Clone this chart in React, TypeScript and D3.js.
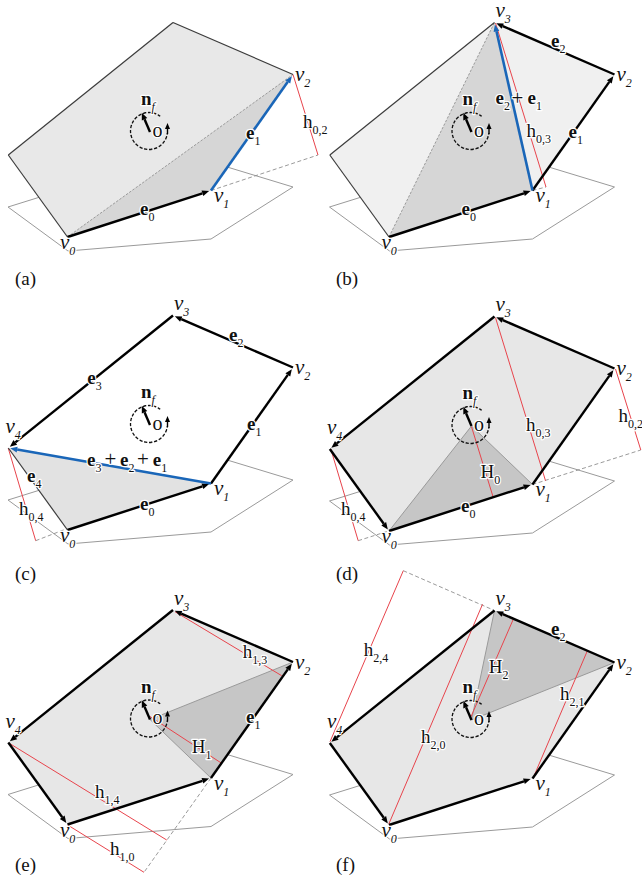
import React from "react";
import * as d3 from "d3";

type P = [number, number];
const vertices: P[] = [[67.5, 237], [211, 190.5], [293, 74.5], [173, 22.5], [8.3, 155]];
const ground: P[] = [[8, 207], [68, 251], [211, 239], [293, 187], [181, 153]];
const origin: P = [150, 132];
const normalTip: P = [141, 111];
const offX = [0, 321.5, 0, 321.5, 0, 321.5];
const offY = [0, 0, 293, 294, 587.5, 588];
const captions = ["(a)", "(b)", "(c)", "(d)", "(e)", "(f)"];
const captionPos: P[] = [[15, 285], [336, 285], [15, 580], [336, 580], [15, 871], [336, 871]];

const lightFill = ["#e8e8e8", "#f0f0f0", "#ffffff", "#e7e7e7", "#e7e7e7", "#e7e7e7"];
const darkFill = ["#d6d6d6", "#d6d6d6", "#e2e2e2", "#c6c6c6", "#c6c6c6", "#c6c6c6"];
// triangle corners: vertex index, or -1 for the origin point
const triangles = [[0, 1, 2], [0, 1, 3], [0, 1, 4], [-1, 0, 1], [-1, 1, 2], [-1, 2, 3]];
const triangleDash = [[[0, 2]], [[0, 3]], [], [[-1, 0], [-1, 1]], [[-1, 1], [-1, 2]], [[-1, 2], [-1, 3]]];

// edges: thick arrow edges and thin plain edges per panel
const thickEdges = [[0], [0, 1, 2], [0, 1, 2, 3], [0, 1, 2, 3, 4], [0, 1, 2, 3, 4], [0, 1, 2, 3, 4]];
const thinEdges = [[2, 3, 4], [3, 4], [4], [], [], []];
const blueArrows: [number, number][][] = [[[1, 2]], [[1, 3]], [[1, 4]], [], [], []];

const redLines: [P, P][][] = [
  [[[293, 74.5], [318, 155]]],
  [[[174, 23], [224.5, 187]]],
  [[[8.3, 155.3], [35.7, 247.7]]],
  [[[174, 23.7], [224, 186.7]], [[294, 75], [319.3, 156]], [[9.3, 155], [36.7, 246.7]], [[150, 132.7], [171.7, 203.3]]],
  [[[175, 24.2], [281.7, 88.2]], [[150, 129], [221.7, 175.8]], [[9.3, 155.8], [166.7, 252.5]], [[67.7, 237.5], [144, 284.8]]],
  [[[81.8, -17.3], [8.5, 153.7]], [[67.2, 236.3], [161, 16.3]], [[149.5, 128.7], [192.2, 30.3]], [[211.5, 190.3], [266.2, 62]]],
];
const dashedLines: [P, P][][] = [
  [[[211, 190.5], [318, 155]]],
  [[[211, 190.5], [224.5, 187]]],
  [[[35.7, 247.7], [66, 236]]],
  [[[211, 190.5], [319.3, 156]], [[36.7, 246.7], [67, 237]]],
  [[[211, 190.5], [144, 284.8]]],
  [[[81.8, -17.3], [173, 22.5]]],
];

type L = [string, string, number, number];
const vLabels: L[] = [["v", "0", 60, 249], ["v", "1", 214, 202], ["v", "2", 295, 81], ["v", "3", 174, 17], ["v", "4", 5.5, 140]];
const vCount = [3, 4, 5, 5, 5, 5];
const eLabels: L[][] = [
  [["e", "0", 140, 215], ["e", "1", 246, 139]],
  [["e", "0", 140, 215], ["e", "1", 247, 138], ["e", "2", 229.5, 47], ["e", "2", 174, 104], ["e", "1", 206, 104]],
  [["e", "3", 87.3, 91.3], ["e", "2", 229, 47.7], ["e", "1", 247, 137], ["e", "0", 140, 217], ["e", "4", 27, 189], ["e", "3", 87, 173], ["e", "2", 120, 173], ["e", "1", 152.7, 173]],
  [["e", "0", 139.5, 217.7]],
  [["e", "1", 246, 135.8]],
  [["e", "2", 229.5, 47]],
];
const hLabels: L[][] = [
  [["h", "0,2", 303, 128]],
  [["h", "0,3", 205, 137]],
  [["h", "0,4", 19, 222]],
  [["h", "0,3", 204.5, 137], ["h", "0,2", 297, 127.7], ["H", "0", 159, 183.7], ["h", "0,4", 19.5, 221]],
  [["h", "1,3", 242.7, 70.2], ["H", "1", 191.7, 165], ["h", "1,4", 95, 210.8], ["h", "1,0", 110, 267.5]],
  [["h", "2,4", 42.2, 67.7], ["h", "2,0", 99.5, 154.7], ["H", "2", 167.2, 85.3], ["h", "2,1", 238.5, 112]],
];
const plusLabels: P[][] = [[], [[190, 104.5]], [[104.5, 173], [137, 173]], [], [], []];

const FONT = "'Liberation Serif', serif";
const RED = "#e8444c";
const BLUE = "#1a66b8";
const line = d3.line<P>();

function Arrow({ a, b, color, w, head = 7 }: { a: P; b: P; color: string; w: number; head?: number }) {
  const ang = Math.atan2(b[1] - a[1], b[0] - a[0]);
  const tip: P = [b[0] - Math.cos(ang) * 2, b[1] - Math.sin(ang) * 2];
  const hw = head * 0.42;
  const base: P = [tip[0] - Math.cos(ang) * head, tip[1] - Math.sin(ang) * head];
  const nx = -Math.sin(ang), ny = Math.cos(ang);
  const headPts: P[] = [tip, [base[0] + nx * hw, base[1] + ny * hw], [base[0] - nx * hw, base[1] - ny * hw]];
  return (
    <g>
      <path d={line([a, base]) ?? ""} stroke={color} strokeWidth={w} fill="none" />
      <path d={(line(headPts) ?? "") + "Z"} fill={color} />
    </g>
  );
}

function Lab({ l, kind }: { l: L; kind: "v" | "e" | "h" | "n" }) {
  const italicMain = kind === "v";
  const bold = kind === "e" || kind === "n";
  const subItalic = kind === "v" || kind === "n";
  return (
    <text x={l[2]} y={l[3]} fontFamily={FONT} fontSize={kind === "v" ? 21 : 19} fill="#111" stroke="#fff" strokeWidth={2.4}
      strokeLinejoin="round" style={{ paintOrder: "stroke" }}>
      <tspan fontStyle={italicMain ? "italic" : "normal"} fontWeight={bold ? 700 : 400}>{l[0]}</tspan>
      <tspan dy={6} fontSize={12} fontStyle={subItalic ? "italic" : "normal"}>{l[1]}</tspan>
    </text>
  );
}

function Panel({ i }: { i: number }) {
  const x = d3.scaleLinear().domain([0, 1]).range([offX[i], offX[i] + 1]);
  const y = d3.scaleLinear().domain([0, 1]).range([offY[i], offY[i] + 1]);
  const pick = (k: number): P => (k < 0 ? origin : vertices[k]);
  const arc = d3.arc()({ innerRadius: 18.5, outerRadius: 18.5, startAngle: 0.65, endAngle: -4.6 }) ?? "";
  return (
    <g transform={`translate(${x(0)},${y(0)})`}>
      <path d={(line(ground) ?? "") + "Z"} fill="none" stroke="#9a9a9a" strokeWidth={1} />
      <path d={(line(vertices) ?? "") + "Z"} fill={lightFill[i]} />
      <path d={(line(triangles[i].map(pick)) ?? "") + "Z"} fill={darkFill[i]} />
      {triangleDash[i].map((e, k) => (
        <path key={k} d={line(e.map(pick)) ?? ""} stroke="#9a9a9a" strokeWidth={1} fill="none" strokeDasharray={i < 2 ? "2.5 1.5" : undefined} />
      ))}
      {dashedLines[i].map((e, k) => (
        <path key={k} d={line(e) ?? ""} stroke="#8f8f8f" strokeWidth={0.9} fill="none" strokeDasharray="4 2.5" />
      ))}
      {redLines[i].map((e, k) => (
        <path key={k} d={line(e) ?? ""} stroke={RED} strokeWidth={1} fill="none" />
      ))}
      {thinEdges[i].map((k) => (
        <path key={k} d={line([vertices[k], vertices[(k + 1) % 5]]) ?? ""} stroke="#3c3c3c" strokeWidth={1.2} fill="none" />
      ))}
      {thickEdges[i].map((k) => (
        <Arrow key={k} a={vertices[k]} b={vertices[(k + 1) % 5]} color="#000" w={2.4} />
      ))}
      {blueArrows[i].map((e, k) => (
        <Arrow key={k} a={vertices[e[0]]} b={vertices[e[1]]} color={BLUE} w={2.6} />
      ))}
      <g transform="translate(149,131)">
        <path d={arc} fill="none" stroke="#111" strokeWidth={1.3} strokeDasharray="3 2" />
      </g>
      <Arrow a={[167.5, 134]} b={[167.5, 121]} color="#000" w={1.4} head={6} />
      <Arrow a={origin} b={normalTip} color="#000" w={2.4} head={7} />
      <text x={152.5} y={136.5} fontFamily={FONT} fontSize={20} fill="#111" stroke="#fff" strokeWidth={2.4} style={{ paintOrder: "stroke" }}>o</text>
      <Lab l={["n", "f", 141, 105]} kind="n" />
      {vLabels.slice(0, vCount[i]).map((l, k) => <Lab key={k} l={l} kind="v" />)}
      {eLabels[i].map((l, k) => <Lab key={k} l={l} kind="e" />)}
      {hLabels[i].map((l, k) => <Lab key={k} l={l} kind="h" />)}
      {plusLabels[i].map((p, k) => (
        <text key={k} x={p[0]} y={p[1]} fontFamily={FONT} fontSize={21} fill="#111" stroke="#fff" strokeWidth={2} style={{ paintOrder: "stroke" }}>+</text>
      ))}
    </g>
  );
}

export default function App() {
  return (
    <svg width={642} height={879} style={{ position: "absolute", left: 0, top: 0, display: "block" }}>
      <rect width={642} height={879} fill="#fff" />
      {captions.map((_, i) => <Panel key={i} i={i} />)}
      {captions.map((c, i) => (
        <text key={c} x={captionPos[i][0]} y={captionPos[i][1]} fontFamily={FONT} fontSize={19} fill="#111">{c}</text>
      ))}
    </svg>
  );
}
